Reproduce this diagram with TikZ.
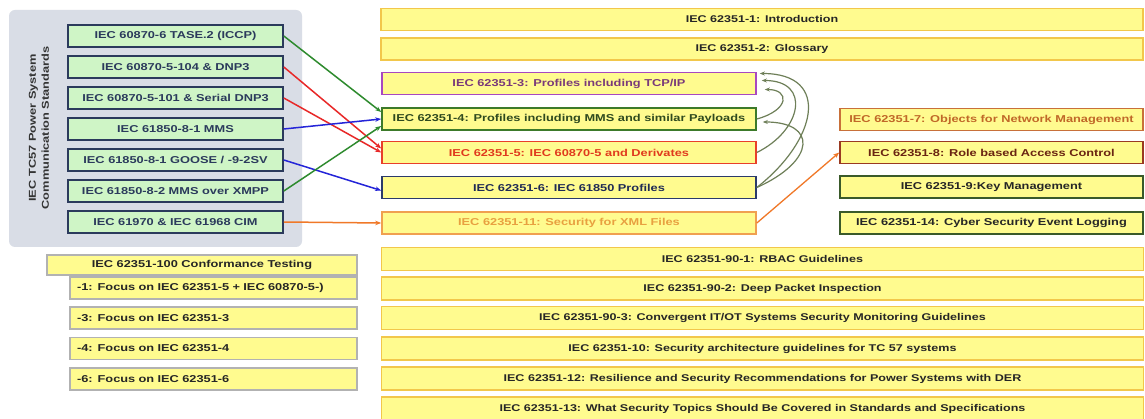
\documentclass[tikz,border=0pt]{standalone}
\usepackage{fontspec}
\setmainfont{Liberation Sans}
\newfontfamily\fA[FakeStretch=1.28]{Liberation Sans Bold}
\usetikzlibrary{arrows.meta}
\definecolor{yfill}{HTML}{FFFB8F}
\definecolor{yborder}{HTML}{F2C74B}
\definecolor{gfill}{HTML}{CFF5C6}
\definecolor{navy}{HTML}{2B3A5C}
\definecolor{panelc}{HTML}{D9DDE6}
\definecolor{purpB}{HTML}{A848C0}
\definecolor{purpT}{HTML}{7A3A7A}
\definecolor{grnB}{HTML}{3C7A2A}
\definecolor{grnT}{HTML}{2F4A1F}
\definecolor{redB}{HTML}{E8402A}
\definecolor{redT}{HTML}{E03A1E}
\definecolor{blueB}{HTML}{2B3A6A}
\definecolor{blueT}{HTML}{1F2A55}
\definecolor{orB}{HTML}{F0A050}
\definecolor{orT}{HTML}{E8A040}
\definecolor{brB}{HTML}{C8703A}
\definecolor{brT}{HTML}{C06828}
\definecolor{dbrB}{HTML}{9A3A22}
\definecolor{dbrT}{HTML}{6A2412}
\definecolor{dgB}{HTML}{3A5A2A}
\definecolor{arG}{HTML}{2E8B2E}
\definecolor{arR}{HTML}{E82828}
\definecolor{arB}{HTML}{2424D8}
\definecolor{arO}{HTML}{F07828}
\definecolor{curvec}{HTML}{6E7F58}
\begin{document}
\begin{tikzpicture}[x=1pt,y=-1pt,
  box/.style={draw, line width=1.6pt, inner sep=0pt, minimum height=22pt, fill=yfill},
  gbox/.style={box, fill=gfill, draw=navy, minimum width=215pt, text=navy, font=\fA\fontsize{10}{12}\selectfont},
  full/.style={box, draw=yborder, line width=1.6pt, minimum width=762pt, font=\fA\fontsize{9.8}{12}\selectfont, text=black!85},
  mid/.style={box, minimum width=374pt, font=\fA\fontsize{10}{12}\selectfont},
  rbox/.style={box, minimum width=303pt, font=\fA\fontsize{10}{12}\selectfont},
  cbox/.style={box, draw=gray!60, line width=1.2pt, font=\fA\fontsize{10}{12}\selectfont, text=black!85},
  csub/.style={cbox, text width=273pt, align=left, inner xsep=7pt, minimum width=287pt},
  con/.style={line width=1.5pt, -{Stealth[length=6pt,width=4.5pt]}},
  curv/.style={line width=1.2pt, draw=curvec, -{Stealth[length=5pt,width=4pt]}}
]
\fill[white] (0,0) rectangle (1145,419);
\useasboundingbox (0,0) rectangle (1145,419);

% left panel
\node[fill=panelc, rounded corners=6pt, minimum width=293pt, minimum height=237pt, inner sep=0pt] (panel) at (155.5,128.5) {};
\node[rotate=90, align=center, text=black!80, font=\fA\fontsize{10}{13}\selectfont] (plabel) at (39,128) {IEC TC57 Power System\\Communication Standards};

\node[gbox] (g1) at (175.5,36) {IEC 60870-6  TASE.2 (ICCP)};
\node[gbox] (g2) at (175.5,67) {IEC 60870-5-104  \& DNP3};
\node[gbox] (g3) at (175.5,98) {IEC 60870-5-101  \& Serial DNP3};
\node[gbox] (g4) at (175.5,129) {IEC 61850-8-1  MMS};
\node[gbox] (g5) at (175.5,160) {IEC 61850-8-1  GOOSE / -9-2SV};
\node[gbox] (g6) at (175.5,191) {IEC 61850-8-2  MMS over XMPP};
\node[gbox] (g7) at (175.5,222) {IEC 61970 \& IEC 61968 CIM};

% top full boxes
\node[full] (t1) at (762,19.5) {IEC 62351-1: Introduction};
\node[full] (t2) at (762,49) {IEC 62351-2: Glossary};

% middle boxes
\node[mid, draw=purpB, text=purpT] (m3) at (569,83.5) {IEC 62351-3:  Profiles including TCP/IP};
\node[mid, draw=grnB, text=grnT] (m4) at (569,119) {IEC 62351-4:  Profiles including MMS and similar Payloads};
\node[mid, draw=redB, text=redT] (m5) at (569,152.5) {IEC 62351-5:  IEC 60870-5 and Derivates};
\node[mid, draw=blueB, text=blueT] (m6) at (569,187.5) {IEC 62351-6:  IEC 61850 Profiles};
\node[mid, draw=orB, text=orT] (m11) at (569,223) {IEC 62351-11:  Security for XML Files};

% right boxes
\node[rbox, draw=brB, text=brT] (r7) at (991.5,119.5) {IEC 62351-7:  Objects for  Network Management};
\node[rbox, draw=dbrB, text=dbrT] (r8) at (991.5,152.5) {IEC 62351-8:  Role based Access Control};
\node[rbox, draw=dgB, text=black!85] (r9) at (991.5,187) {IEC 62351-9:Key  Management};
\node[rbox, draw=dgB, text=black!85] (r14) at (991.5,223) {IEC 62351-14:  Cyber Security Event Logging};

% bottom full boxes
\node[full, minimum height=23pt] (b901) at (762.5,259) {IEC 62351-90-1:  RBAC Guidelines};
\node[full, minimum height=23pt] (b902) at (762.5,288.5) {IEC 62351-90-2:  Deep Packet  Inspection};
\node[full, minimum height=23pt] (b903) at (762.5,318) {IEC 62351-90-3:  Convergent IT/OT Systems Security Monitoring Guidelines};
\node[full, minimum height=23pt] (b10) at (762.5,348.5) {IEC 62351-10:  Security architecture guidelines for  TC 57 systems};
\node[full, minimum height=23pt] (b12) at (762.5,378.5) {IEC 62351-12:  Resilience and Security Recommendations for  Power Systems with DER};
\node[full, minimum height=23pt] (b13) at (762.5,408.5) {IEC 62351-13:  What Security Topics Should Be Covered in Standards and Specifications};

% conformance testing
\node[cbox, minimum width=310pt, minimum height=20pt] (ct) at (202,265) {IEC 62351-100  Conformance Testing};
\node[csub] (c1) at (213.5,288) {-1: Focus  on IEC 62351-5 + IEC 60870-5-)};
\node[csub] (c3) at (213.5,318) {-3: Focus on IEC 62351-3};
\node[csub] (c4) at (213.5,348.5) {-4: Focus on IEC 62351-4};
\node[csub] (c6) at (213.5,379) {-6: Focus on IEC 62351-6};

% straight connectors
\draw[con, arG] (g1.east) -- ([shift={(0,-7)}]m4.west);
\draw[con, arR] (g2.east) -- ([shift={(0,-4)}]m5.west);
\draw[con, arR] (g3.east) -- ([shift={(0,0)}]m5.west);
\draw[con, arB] (g4.east) -- (m4.west);
\draw[con, arB] (g5.east) -- ([shift={(0,3)}]m6.west);
\draw[con, arG] (g6.east) -- ([shift={(0,7)}]m4.west);
\draw[con, arO] (g7.east) -- (m11.west);
\draw[con, arO, line width=1.3pt] (m11.east) -- (r8.west);

% curved connectors
\draw[curv] (m6.east) .. controls +(60,-47) and +(72,0) .. ([shift={(3,-10)}]m3.east);
\draw[curv] (m5.east) .. controls +(45,-22) and +(50,0) .. ([shift={(5,-3)}]m3.east);
\draw[curv] (m4.east) .. controls +(33,-9) and +(25,0) .. ([shift={(8,6)}]m3.east);
\draw[curv] (m6.east) .. controls +(60,-27) and +(54,0) .. ([shift={(6,3)}]m4.east);
\end{tikzpicture}
\end{document}
